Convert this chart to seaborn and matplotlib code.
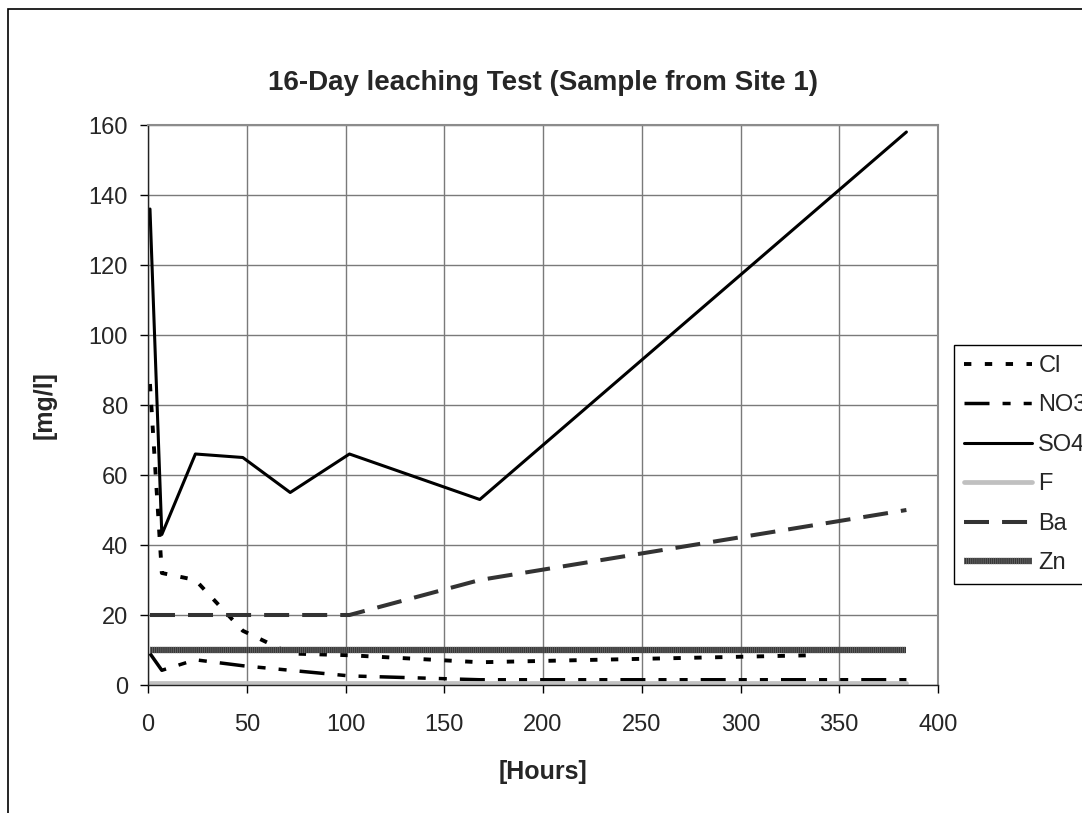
import pandas as pd
import matplotlib.pyplot as plt
import seaborn as sns
from matplotlib.lines import Line2D
from matplotlib.patches import Rectangle
from matplotlib.legend_handler import HandlerTuple

# values
hours_cl = [1, 7, 24, 48, 72, 102, 168, 336]
cl = [86, 32, 30, 15.5, 9, 8.5, 6.5, 8.5]

hours_no3 = [1, 7, 24, 48, 72, 102, 168, 384]
no3 = [9, 4.2, 7.2, 5.5, 4.2, 2.6, 1.5, 1.5]

hours_so4 = [1, 7, 24, 48, 72, 102, 168, 384]
so4 = [136, 43, 66, 65, 55, 66, 53, 158]

hours_f = [1, 384]
f = [0.6, 0.6]

hours_ba = [1, 102, 168, 384]
ba = [20, 20, 30, 50]

hours_zn = [1, 384]
zn = [10, 10]

x_ticks = list(range(0, 401, 50))
y_ticks = list(range(0, 161, 20))

sns.set_style("white")
plt.rcParams['font.family'] = ['Liberation Sans', 'DejaVu Sans']
plt.rcParams['lines.scale_dashes'] = False

W, H = 1082, 813
fig = plt.figure(figsize=(W / 100, H / 100), dpi=100)
ax = fig.add_axes([148 / W, 1 - 685 / H, (938 - 148) / W, (685 - 125) / H])

ax.set_xlim(0, 400)
ax.set_ylim(0, 160)
ax.set_xticks(x_ticks)
ax.set_yticks(y_ticks)
ax.grid(True, color='#7a7a7a', lw=1.0)
ax.set_axisbelow(True)

styles = {
    'Cl': dict(color='black', lw=2.8, linestyle=(0, (5.3, 9.7))),
    'NO3': dict(color='black', lw=2.5, linestyle=(0, (18, 9.4, 5.8, 9.4, 5.8, 9.4))),
    'SO4': dict(color='black', lw=2.2, linestyle='-'),
    'F': dict(color='#c0c0c0', lw=3.4, linestyle='-'),
    'Ba': dict(color='#333333', lw=2.9, linestyle=(0, (18, 9.4))),
}

series = [
    ('Cl', hours_cl, cl),
    ('NO3', hours_no3, no3),
    ('SO4', hours_so4, so4),
    ('F', hours_f, f),
    ('Ba', hours_ba, ba),
]

handles = []
labels = []
for name, hx, hy in series:
    d = pd.DataFrame({'Hours': hx, 'mg': hy})
    sns.lineplot(data=d, x='Hours', y='mg', ax=ax, **styles[name])
    handles.append(Line2D([], [], **styles[name]))
    labels.append(name)

# Zn: thick dark band with fine vertical striping
zn_df = pd.DataFrame({'Hours': hours_zn, 'mg': zn})
zn_base = dict(color='#363636', lw=4.5, linestyle='-', solid_capstyle='butt')
zn_stripe = dict(color='#6a6a6a', lw=4.5, linestyle=(0, (0.6, 0.9)), dash_capstyle='butt')
sns.lineplot(data=zn_df, x='Hours', y='mg', ax=ax, **zn_base)
sns.lineplot(data=zn_df, x='Hours', y='mg', ax=ax, **zn_stripe)
handles.append((Line2D([], [], **zn_base), Line2D([], [], **zn_stripe)))
labels.append('Zn')

ax.tick_params(axis='both', labelsize=17, direction='out', length=6, width=1,
               color='black', left=True, bottom=True)
ax.tick_params(axis='x', pad=15)
ax.tick_params(axis='y', pad=8.5)
for side in ['top', 'right']:
    ax.spines[side].set_color('#8c8c8c')
    ax.spines[side].set_linewidth(1.5)
for side in ['left', 'bottom']:
    ax.spines[side].set_color('#222222')
    ax.spines[side].set_linewidth(1.0)

ax.set_xlabel('[Hours]', fontsize=18, fontweight='bold', labelpad=17)
ax.set_ylabel('[mg/l]', fontsize=18, fontweight='bold', labelpad=23)
ax.set_title('16-Day leaching Test (Sample from Site 1)', fontsize=20,
             fontweight='bold', pad=25)

leg = ax.legend(handles, labels, loc='upper left',
                bbox_to_anchor=(954 / W, 1 - 345 / H), bbox_transform=fig.transFigure,
                borderaxespad=0, frameon=True, fancybox=False, fontsize=17,
                handlelength=2.9, handletextpad=0.25, labelspacing=0.74,
                borderpad=0.42, handler_map={tuple: HandlerTuple(ndivide=1, pad=0)})
leg.get_frame().set_edgecolor('black')
leg.get_frame().set_linewidth(1.0)
leg.get_frame().set_alpha(1)

# outer chart border
fig.patches.append(Rectangle((8 / W, -0.1), 1.2, 1 - 9 / H + 0.1, transform=fig.transFigure,
                             fill=False, edgecolor='black', lw=1.2))

fig.savefig('out.png', dpi=100)
